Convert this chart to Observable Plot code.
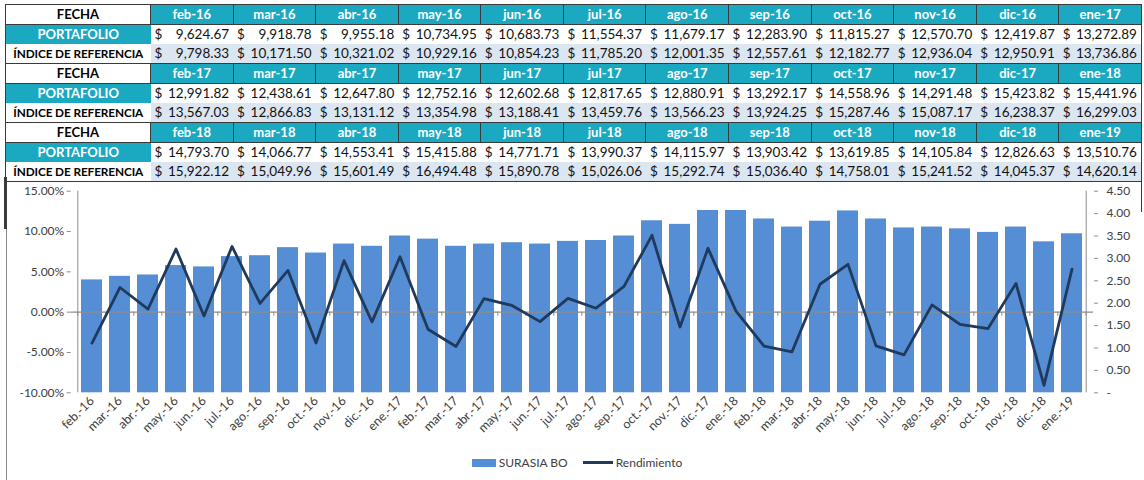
<!DOCTYPE html>
<html><head><meta charset="utf-8">
<script src="https://cdn.jsdelivr.net/npm/d3@7"></script>
<script src="https://cdn.jsdelivr.net/npm/@observablehq/plot@0.6"></script>
<style>
body{margin:0;background:#fff;font-family:Lato,"Open Sans",sans-serif;}
#wrap{position:relative;width:1144px;height:480px;overflow:hidden;background:#fff}
#tbl{position:absolute;left:5px;top:4px;border-collapse:collapse;table-layout:fixed;width:1136px;font-size:13.5px;border:1.5px solid #3a3a3a}
#tbl td{padding:0;height:19.2px;line-height:19px;white-space:nowrap;overflow:hidden;box-sizing:border-box}
#tbl td.h{text-align:center;font-weight:bold;border:1px solid #3a3a3a;font-size:13px}
#tbl td.hm{background:#1ba9c1;color:#fff}
#tbl td.hf{background:#fff;color:#000}
#tbl td.lp{background:#1ba9c1;color:#fff;text-align:center;font-weight:bold;font-size:13px}
#tbl td.li{background:#fff;color:#000;text-align:center;font-weight:bold;font-size:11.8px;letter-spacing:-0.1px}
#tbl td.vp{background:#fff}
#tbl td.vi{background:#dce6f1}
#tbl td .c{display:flex;justify-content:space-between;padding:0 4px 0 4px;color:#111}
#chart{position:absolute;left:0;top:178px}
#legend{position:absolute;top:455px;left:0;width:1144px;display:flex;justify-content:center;gap:15px;font-size:12px;color:#404040;padding-left:10px;box-sizing:border-box}
#legend .it{display:flex;align-items:center;gap:3px}
#lb{position:absolute;left:6px;top:177px;width:1px;height:303px;background:#8a8a8a}
#lb2{position:absolute;left:4px;top:177px;width:3px;height:52px;background:#3a3a3a}
#rb{position:absolute;left:1141px;top:177px;width:1px;height:35px;background:#3a3a3a}
</style>
</head><body>
<div id="wrap">
<table id="tbl"></table>
<div id="lb"></div><div id="lb2"></div><div id="rb"></div>
<div id="chart"></div>
<div id="legend"></div>
</div>
<script>
// ---- data ----
const months = ["feb-16","mar-16","abr-16","may-16","jun-16","jul-16","ago-16","sep-16","oct-16","nov-16","dic-16","ene-17",
"feb-17","mar-17","abr-17","may-17","jun-17","jul-17","ago-17","sep-17","oct-17","nov-17","dic-17","ene-18",
"feb-18","mar-18","abr-18","may-18","jun-18","jul-18","ago-18","sep-18","oct-18","nov-18","dic-18","ene-19"];
const portafolio = ["9,624.67","9,918.78","9,955.18","10,734.95","10,683.73","11,554.37","11,679.17","12,283.90","11,815.27","12,570.70","12,419.87","13,272.89",
"12,991.82","12,438.61","12,647.80","12,752.16","12,602.68","12,817.65","12,880.91","13,292.17","14,558.96","14,291.48","15,423.82","15,441.96",
"14,793.70","14,066.77","14,553.41","15,415.88","14,771.71","13,990.37","14,115.97","13,903.42","13,619.85","14,105.84","12,826.63","13,510.76"];
const indice = ["9,798.33","10,171.50","10,321.02","10,929.16","10,854.23","11,785.20","12,001.35","12,557.61","12,182.77","12,936.04","12,950.91","13,736.86",
"13,567.03","12,866.83","13,131.12","13,354.98","13,188.41","13,459.76","13,566.23","13,924.25","15,287.46","15,087.17","16,238.37","16,299.03",
"15,922.12","15,049.96","15,601.49","16,494.48","15,890.78","15,026.06","15,292.74","15,036.40","14,758.01","15,241.52","14,045.37","14,620.14"];
const chartLabels = ["feb.-16","mar.-16","abr.-16","may.-16","jun.-16","jul.-16","ago.-16","sep.-16","oct.-16","nov.-16","dic.-16","ene.-17",
"feb.-17","mar.-17","abr.-17","may.-17","jun.-17","jul.-17","ago.-17","sep.-17","oct.-17","nov.-17","dic.-17","ene.-18",
"feb.-18","mar.-18","abr.-18","may.-18","jun.-18","jul.-18","ago.-18","sep.-18","oct.-18","nov.-18","dic.-18","ene.-19"];
// SURASIA BO (right axis)
const surasia = [2.52,2.60,2.63,2.84,2.81,3.04,3.06,3.24,3.12,3.32,3.27,3.50,
3.43,3.27,3.32,3.35,3.32,3.38,3.40,3.50,3.84,3.76,4.07,4.07,
3.88,3.70,3.83,4.06,3.88,3.68,3.70,3.66,3.58,3.70,3.37,3.55];
// Rendimiento (%) (left axis)
const rendimiento = [-3.84,3.06,0.37,7.83,-0.48,8.15,1.08,5.18,-3.82,6.39,-1.20,6.87,
-2.12,-4.26,1.68,0.83,-1.17,1.71,0.49,3.19,9.53,-1.84,7.92,0.12,
-4.20,-4.91,3.46,5.93,-4.18,-5.29,0.90,-1.51,-2.04,3.57,-9.07,5.33];
const leftTicks = [-10,-5,0,5,10,15];
const rightTicks = [0,0.5,1,1.5,2,2.5,3,3.5,4,4.5];
const leftDomain = [-10,15];
const rightDomain = [0,4.5];

// ---- table ----
const tbl = document.getElementById("tbl");
let html = '<colgroup><col style="width:145px">' + '<col style="width:82.58px">'.repeat(12) + '</colgroup>';
for (let g = 0; g < 3; g++) {
  const sl = [g*12, g*12+12];
  html += '<tr><td class="h hf">FECHA</td>' + months.slice(...sl).map(m => `<td class="h hm">${m}</td>`).join("") + '</tr>';
  html += '<tr><td class="lp">PORTAFOLIO</td>' + portafolio.slice(...sl).map(v => `<td class="vp"><div class="c"><span>$</span><span>${v}</span></div></td>`).join("") + '</tr>';
  html += '<tr style="border-bottom:1px solid #3a3a3a"><td class="li">ÍNDICE DE REFERENCIA</td>' + indice.slice(...sl).map(v => `<td class="vi"><div class="c"><span>$</span><span>${v}</span></div></td>`).join("") + '</tr>';
}
tbl.innerHTML = html;

// ---- chart ----
const W = 1144, H = 272, mL = 70.7, mR = 51, mT = 12.7, mB = 57.7;
const step = (W - mL - mR) / months.length;
const r2l = v => leftDomain[0] + (v - rightDomain[0]) * (leftDomain[1]-leftDomain[0]) / (rightDomain[1]-rightDomain[0]);
const l2r = p => rightDomain[0] + (p - leftDomain[0]) * (rightDomain[1]-rightDomain[0]) / (leftDomain[1]-leftDomain[0]);
const rows = chartLabels.map((m, i) => ({m, bar: surasia[i], ret: rendimiento[i]}));
const axisGray = "#8c8c8c";
const chart = Plot.plot({
  width: W, height: H, marginLeft: mL, marginRight: mR, marginTop: mT, marginBottom: mB,
  style: {fontFamily: "Lato, sans-serif", fontSize: "12px", color: "#404040", background: "transparent"},
  x: {type: "band", domain: chartLabels, paddingInner: 0.26, paddingOuter: 0.13},
  y: {domain: leftDomain},
  marks: [
    Plot.barY(rows, {x: "m", y1: leftDomain[0], y2: d => r2l(d.bar), fill: "#558ed5"}),
    Plot.ruleY([0], {stroke: axisGray, strokeWidth: 1.2}),
    Plot.ruleX(chartLabels, {x: d => d, y1: 0, y2: -0.5, dx: -step/2, stroke: axisGray}),
    Plot.ruleX(chartLabels.slice(-1), {x: d => d, y1: 0, y2: -0.5, dx: step/2, stroke: axisGray}),
    Plot.ruleX(chartLabels.slice(0,1), {x: d => d, y1: leftDomain[0], y2: leftDomain[1], dx: -step/2, stroke: axisGray}),
    Plot.ruleX(chartLabels.slice(-1), {x: d => d, y1: leftDomain[0], y2: leftDomain[1], dx: step/2, stroke: axisGray}),
    Plot.line(rows, {x: "m", y: "ret", stroke: "#1f3a5c", strokeWidth: 2.8}),
    Plot.axisY({anchor: "left", ticks: leftTicks, tickFormat: d => d.toFixed(2) + "%", tickSize: 4, tickPadding: 3, stroke: axisGray, fill: "#404040", fontSize: 12, label: null}),
    Plot.axisY({anchor: "right", ticks: rightTicks.map(r2l), tickFormat: p => { const v = l2r(p); return Math.abs(v) < 1e-9 ? "-" : v.toFixed(2); }, tickSize: 4, tickPadding: 9, stroke: axisGray, fill: "#404040", fontSize: 12, label: null}),
    Plot.axisX({anchor: "bottom", tickRotate: -45, tickSize: 0, tickPadding: 6, fill: "#404040", fontSize: 12.5, label: null})
  ]
});
document.getElementById("chart").appendChild(chart);

// ---- legend ----
document.getElementById("legend").innerHTML =
  '<div class="it"><span style="display:inline-block;width:24px;height:8px;background:#558ed5"></span><span>SURASIA BO</span></div>' +
  '<div class="it"><span style="display:inline-block;width:30px;height:2.5px;background:#1f3a5c"></span><span>Rendimiento</span></div>';
</script>
</body></html>
